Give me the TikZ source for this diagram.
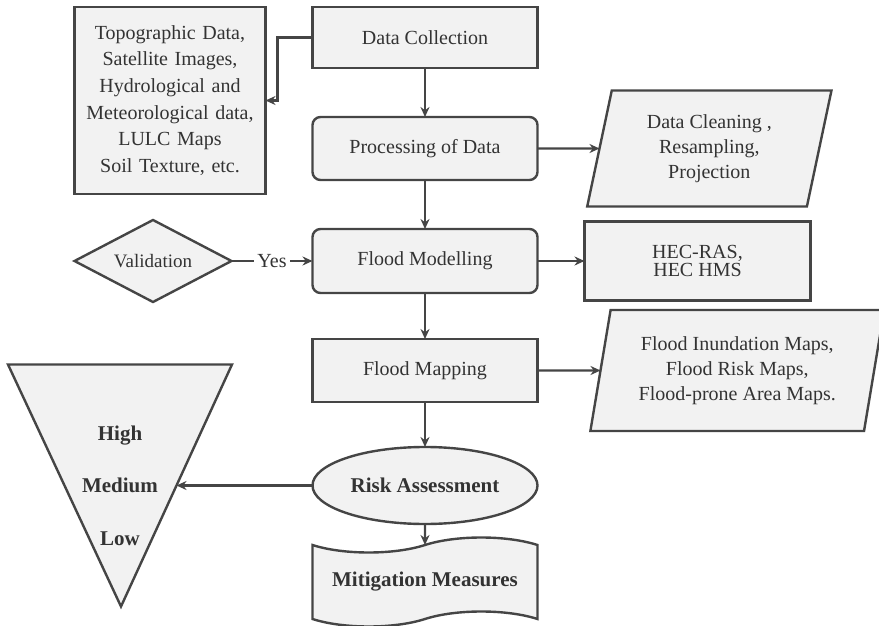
\documentclass[tikz,border=0pt]{standalone}
\usepackage{fontspec}
\setmainfont{Liberation Serif}
\usetikzlibrary{arrows.meta,positioning,shapes.geometric,shapes.symbols}
\definecolor{edge}{HTML}{454545}
\definecolor{paper}{HTML}{F2F2F2}
\definecolor{ink}{HTML}{333333}
\tikzset{
  >={Stealth[length=5pt,width=4.5pt]},
  flowbase/.style={
    draw=edge, fill=paper, line width=1.2pt, text=ink, align=center,
    outer sep=0pt, font=\fontsize{10}{12.5}\selectfont
  },
  stepbox/.style={
    flowbase, rectangle, minimum width=112.5pt, minimum height=31.5pt
  },
  roundbox/.style={stepbox, rounded corners=4pt},
  srcbox/.style={
    flowbase, rectangle, inner sep=0pt, font=\fontsize{10}{13.3}\selectfont,
    text width=95.5pt, minimum height=93.5pt
  },
  toolbox/.style={
    flowbase, rectangle, font=\fontsize{10}{8.8}\selectfont,
    minimum width=113pt, minimum height=39.5pt
  },
  iobox/.style={
    flowbase, trapezium, trapezium left angle=77, trapezium right angle=103,
    trapezium stretches=true, inner sep=0pt
  },
  decision/.style={
    flowbase, diamond, aspect=1.9, inner sep=0pt,
    font=\fontsize{9.5}{11.5}\selectfont,
    minimum width=78.5pt, minimum height=41pt
  },
  outcome/.style={
    flowbase, ellipse, inner sep=0pt,
    font=\fontsize{10.5}{12.6}\selectfont\bfseries,
    minimum width=112.5pt, minimum height=38.5pt
  },
  tapebox/.style={
    flowbase, tape, tape bend height=7.5pt, inner sep=0pt,
    font=\fontsize{10.5}{12.6}\selectfont\bfseries,
    minimum width=112.5pt, minimum height=44.5pt
  },
  levels/.style={
    text=ink, align=center, font=\fontsize{10.5}{12.6}\selectfont\bfseries
  },
  link/.style={->, draw=edge, line width=1.2pt}
}

\begin{document}
\begin{tikzpicture}
  \useasboundingbox (0,0) rectangle (439.5pt,-313pt);
  % main column
  \node[stepbox, minimum height=30.5pt] (dc) at (212.5pt,-18.75pt) {Data Collection};
  \node[roundbox, below=24.5pt of dc] (proc) {Processing of Data};
  \node[roundbox, below=24.5pt of proc, minimum height=32pt] (model) {Flood Modelling};
  \node[stepbox, below=23pt of model] (map) {Flood Mapping};
  \node[outcome, below=22.5pt of map] (risk) {Risk Assessment};
  \node[tapebox, below=10.5pt of risk] (mit) {Mitigation Measures};
  % side nodes
  \node[srcbox, anchor=north east] (src) at ([xshift=-23.5pt]dc.north west)
    {Topographic Data,\\Satellite Images,\\Hydrological and\\Meteorological data,\\LULC Maps\\Soil Texture, etc.};
  \node[iobox, right=31pt of proc, minimum width=123pt, minimum height=58pt] (clean)
    {Data Cleaning ,\\Resampling,\\Projection};
  \node[toolbox, right=23.5pt of model] (hec) {HEC-RAS,\\HEC HMS};
  \node[iobox, right=31.5pt of map, minimum width=147pt, minimum height=60.5pt] (maps)
    {Flood Inundation Maps,\\Flood Risk Maps,\\Flood-prone Area Maps.};
  \node[decision, left=40.5pt of model] (val) {Validation};
  % risk levels triangle
  \draw[flowbase] ([shift={(-208.5pt,60.5pt)}]risk.center) coordinate (tl)
    -- ++(112pt,0) coordinate (tr)
    -- ([shift={(-152pt,-60.5pt)}]risk.center) coordinate (tb) -- cycle;
  \path (tr) -- (tb) coordinate[pos=0.5] (tedge);
  \node[levels] (lvl) at ([xshift=-152.5pt]risk.center) {High\\[13.6pt]Medium\\[13.6pt]Low};
  % connectors
  \draw[link] (dc.west) -- ++(-17.5pt,0) |- (src.east);
  \draw[link] (dc) -- (proc);
  \draw[link] (proc) -- (model);
  \draw[link] (model) -- (map);
  \draw[link] (map) -- (risk);
  \draw[link] (risk) -- (mit);
  \draw[link] (proc) -- (clean);
  \draw[link] (model) -- (hec);
  \draw[link] (map) -- (maps);
  \draw[link] (val) -- node[fill=white, text=ink, inner sep=1.5pt] {Yes} (model);
  \draw[link] (risk) -- (tedge);
\end{tikzpicture}
\end{document}
